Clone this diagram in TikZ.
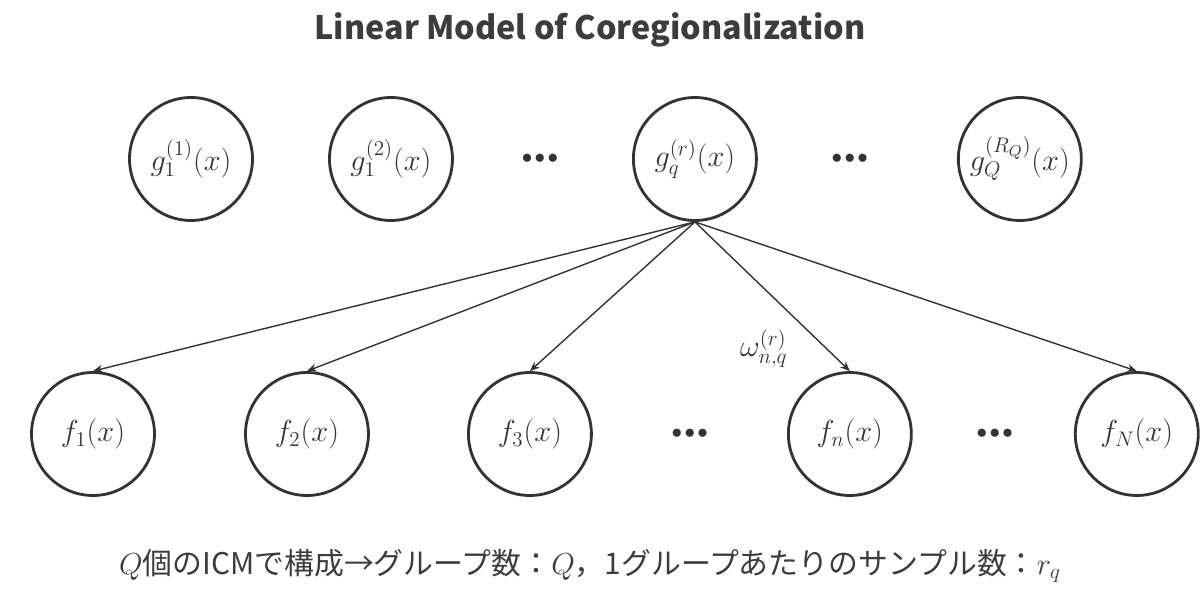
\documentclass[tikz,border=0pt]{standalone}
\usepackage{fontspec}
\setmainfont{Noto Sans CJK JP}
\usepackage{tikz}
\usetikzlibrary{positioning,arrows.meta}

\definecolor{linegray}{HTML}{333333}
\definecolor{textgray}{HTML}{3C3C3C}

\newcommand{\rowdots}{${\bullet}\mkern2mu{\bullet}\mkern2mu{\bullet}$}

\begin{document}
\begin{tikzpicture}[x=0.02cm,y=-0.02cm,on grid,>={Stealth[length=5.5pt,width=4.5pt]}]
\tikzset{var/.style={circle,draw=linegray,line width=1.6pt,minimum size=2.46cm,inner sep=0pt,text=linegray,font=\fontsize{17.5}{20}\selectfont},
  dotsnode/.style={text=linegray,font=\fontsize{12}{14}\selectfont},
  edgearrow/.style={->,draw=linegray,line width=0.8pt}}
\useasboundingbox (0,0) rectangle (1200,604);
  \node[font=\bfseries\fontsize{18.4}{22}\selectfont,text=textgray] (title) at (590,30) {Linear Model of Coregionalization};
  % latent processes
  \node[var] (g1) at (191,159) {$g_1^{(1)}(x)$};
  \node[var] (g2) [right=4cm of g1] {$g_1^{(2)}(x)$};
  \node[dotsnode] (gdots1) [right=2.98cm of g2] {\rowdots};
  \node[var] (gq) [right=3.1cm of gdots1] {$g_q^{(r)}(x)$};
  \node[dotsnode] (gdots2) [right=3.1cm of gq] {\rowdots};
  \node[var] (gQ) [right=3.4cm of gdots2] {$g_Q^{(R_Q)}(x)$};
  % outputs
  \node[var] (f1) at (93,434) {$f_1(x)$};
  \node[var] (f2) [right=4.28cm of f1] {$f_2(x)$};
  \node[var] (f3) [right=4.46cm of f2] {$f_3(x)$};
  \node[dotsnode] (fdots1) [right=3.2cm of f3] {\rowdots};
  \node[var] (fn) [right=3.2cm of fdots1] {$f_n(x)$};
  \node[dotsnode] (fdots2) [right=2.9cm of fn] {\rowdots};
  \node[var] (fN) [right=2.84cm of fdots2] {$f_N(x)$};
  \draw[edgearrow] (gq.south) -- (f1.north);
  \draw[edgearrow] (gq.south) -- (f2.north);
  \draw[edgearrow] (gq.south) -- (f3.north);
  \draw[edgearrow] (gq.south) -- node[pos=.85,left=0.65cm,text=linegray,font=\fontsize{17.5}{20}\selectfont] {$\omega_{n,q}^{(r)}$} (fn.north);
  \draw[edgearrow] (gq.south) -- (fN.north);
  \node[font=\fontsize{17}{20}\selectfont,text=textgray] (caption) at (590,566) {$Q$個のICMで構成→グループ数：$Q$，1グループあたりのサンプル数：$r_q$};
\end{tikzpicture}
\end{document}
